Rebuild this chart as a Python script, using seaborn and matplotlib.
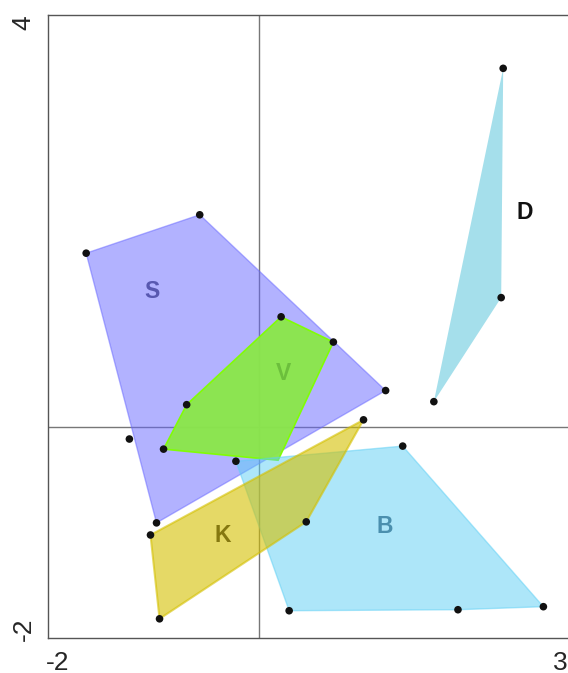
import matplotlib
matplotlib.use('Agg')
from matplotlib import pyplot as plt
import seaborn as sns
import pandas as pd

# polygon corners for each group (x, y)
s_x = [-1.72, -0.59, 1.26, -1.02]
s_y = [1.72, 2.10, 0.36, -0.95]
v_x = [0.22, 0.74, 0.19, -0.95, -0.72]
v_y = [1.09, 0.84, -0.33, -0.22, 0.22]
d_x = [2.43, 2.41, 1.74]
d_y = [3.55, 1.28, 0.25]
b_x = [-0.23, 1.43, 2.83, 1.98, 0.30]
b_y = [-0.34, -0.19, -1.78, -1.81, -1.82]
k_x = [1.04, 0.47, -0.99, -1.08]
k_y = [0.07, -0.94, -1.90, -1.07]

# all the dots
pt_x = [2.43, 2.41, 1.74, -0.59, -1.72, 0.22, 0.74, 1.26, -0.72, 1.04, -1.29, -0.95,
        -0.23, 1.43, 0.47, -1.02, -1.08, -0.99, 0.30, 1.98, 2.83]
pt_y = [3.55, 1.28, 0.25, 2.10, 1.72, 1.09, 0.84, 0.36, 0.22, 0.07, -0.12, -0.22,
        -0.34, -0.19, -0.94, -0.95, -1.07, -1.90, -1.82, -1.81, -1.78]

# group labels
lab_text = ['S', 'V', 'D', 'K', 'B']
lab_x = [-1.07, 0.24, 2.64, -0.36, 1.25]
lab_y = [1.34, 0.53, 2.12, -1.08, -0.99]
lab_col = ['#5858b0', '#6cbf3c', '#111111', '#857810', '#4a8fae']

if __name__ == '__main__':
    sns.set_style('white')
    plt.rcParams['font.family'] = ['Liberation Sans', 'DejaVu Sans']

    fig = plt.figure(figsize=(5.68, 6.73), dpi=100)
    ax = fig.add_axes([0.0845, 0.052, 0.9155, 0.926])

    # crosshair through the origin
    ax.axhline(0, color='#777777', lw=1, zorder=1)
    ax.axvline(0, color='#777777', lw=1, zorder=1)

    # the group hulls
    ax.fill(s_x, s_y, facecolor='#6666ff', alpha=0.5, edgecolor='#6666ff', lw=1, zorder=2)
    ax.fill(v_x, v_y, facecolor='#8be64b', alpha=0.97, edgecolor='#80ff00', lw=1.2, zorder=3)
    ax.fill(d_x, d_y, facecolor='#4cc0d8', alpha=0.5, edgecolor='none', zorder=2)
    ax.fill(b_x, b_y, facecolor='#5ccff5', alpha=0.5, edgecolor='#5ccff5', lw=1, zorder=3)
    ax.fill(k_x, k_y, facecolor='#d4c000', alpha=0.6, edgecolor='#d4c000', lw=1.5, zorder=4)

    pts = pd.DataFrame({'x': pt_x, 'y': pt_y})
    sns.scatterplot(data=pts, x='x', y='y', color='#111111', s=30, edgecolor='none', ax=ax, zorder=6)

    for t, x, y, c in zip(lab_text, lab_x, lab_y, lab_col):
        ax.text(x, y, t, color=c, fontsize=16.5, fontweight='bold', ha='center', va='center', zorder=7)

    ax.set_xlim(-2.1, 3.075)
    ax.set_ylim(-2.09, 4.08)
    ax.set_xticks([-2, -1, 0, 1, 2, 3])
    ax.set_xticklabels(['-2', '', '', '', '', '3'])
    ax.set_yticks([-2, -1, 0, 1, 2, 3, 4])
    ax.set_yticklabels(['-2', '', '', '', '', '', '4'], rotation=90, va='center')
    ax.tick_params(direction='inout', length=6, width=1, color='#333333', labelsize=19, pad=6)
    ax.set_xlabel('')
    ax.set_ylabel('')
    for side in ['left', 'bottom', 'top']:
        ax.spines[side].set_color('#555555')
        ax.spines[side].set_linewidth(1)
    ax.spines['right'].set_visible(False)

    fig.savefig('out.png', dpi=100)
